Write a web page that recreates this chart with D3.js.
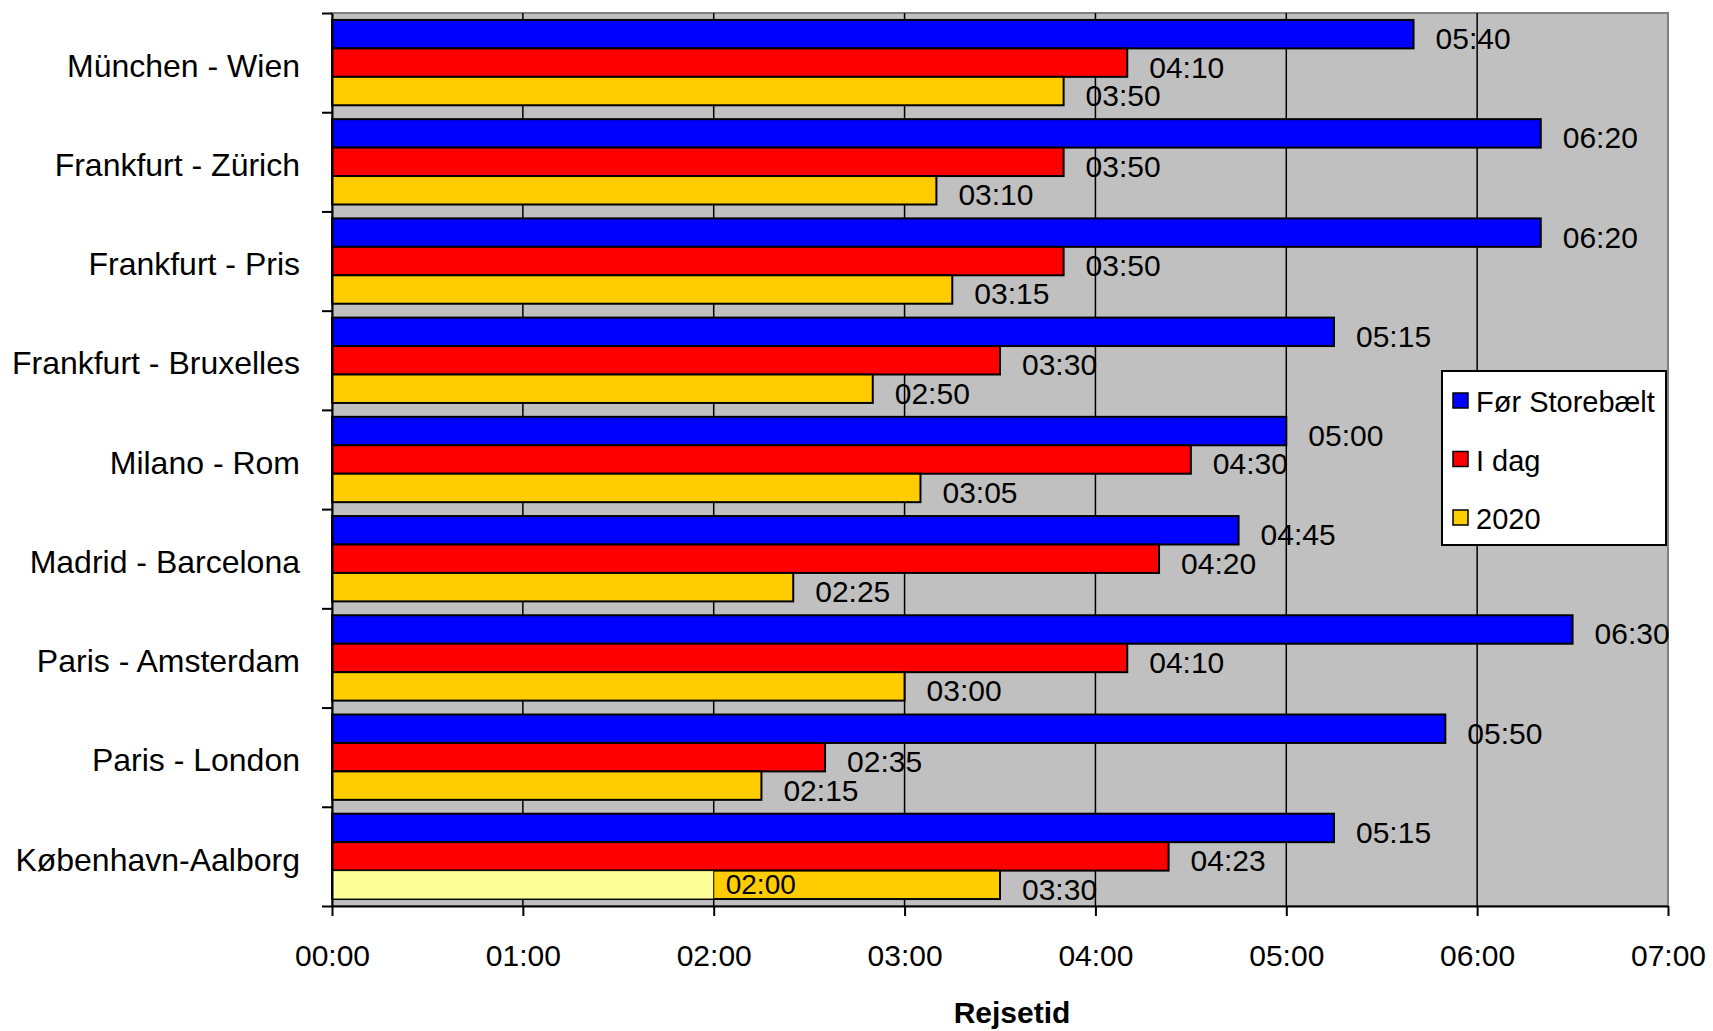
<!DOCTYPE html>
<html>
<head>
<meta charset="utf-8">
<script src="https://cdn.jsdelivr.net/npm/d3@7"></script>
<style>
  body { margin: 0; background: #fff; }
  text { font-family: "Liberation Sans", Arial, sans-serif; }
</style>
</head>
<body>
<div id="graph"></div>
<script>
// Routes and travel times (hh:mm)
const routes = ["München - Wien", "Frankfurt - Zürich", "Frankfurt - Pris", "Frankfurt - Bruxelles",
                "Milano - Rom", "Madrid - Barcelona", "Paris - Amsterdam", "Paris - London", "København-Aalborg"];
const seriesNames = ["Før Storebælt", "I dag", "2020"];
const forStorebaelt = ["05:40", "06:20", "06:20", "05:15", "05:00", "04:45", "06:30", "05:50", "05:15"];
const iDag          = ["04:10", "03:50", "03:50", "03:30", "04:30", "04:20", "04:10", "02:35", "04:23"];
const aar2020       = ["03:50", "03:10", "03:15", "02:50", "03:05", "02:25", "03:00", "02:15", "03:30"];
// København-Aalborg 2020 has a light part up to 02:00
const kbhLightPart = "02:00";
const xTicks = [0, 60, 120, 180, 240, 300, 360, 420];

const colors = ["#0000ff", "#ff0000", "#ffcc00"];
const lightYellow = "#ffff99";

function toMin(s) {
  let p = s.split(":");
  return +p[0] * 60 + +p[1];
}
function fmt(m) {
  let h = Math.floor(m / 60), mm = m % 60;
  return String(h).padStart(2, "0") + ":" + String(mm).padStart(2, "0");
}

let width = 1713, height = 1031;
let plotLeft = 332, plotRight = 1668, plotTop = 13, plotBottom = 906;

let svg = d3.select("#graph").append("svg")
  .attr("width", width)
  .attr("height", height);

let xscale = d3.scaleLinear().domain([0, 420]).range([plotLeft, plotRight]);

let y0 = d3.scaleBand().domain(routes).range([plotTop, plotBottom])
  .paddingInner(0.14).paddingOuter(0.07);
let y1 = d3.scaleBand().domain(seriesNames).range([0, y0.bandwidth()]);

// plot background
svg.append("rect")
  .attr("x", plotLeft).attr("y", plotTop)
  .attr("width", plotRight - plotLeft).attr("height", plotBottom - plotTop)
  .attr("fill", "#c0c0c0")
  .attr("stroke", "#808080").attr("stroke-width", 2);

// vertical gridlines
svg.selectAll(".grid")
  .data(xTicks.slice(1, -1))
  .enter().append("line")
  .attr("x1", d => xscale(d)).attr("x2", d => xscale(d))
  .attr("y1", plotTop).attr("y2", plotBottom)
  .attr("stroke", "#000").attr("stroke-width", 1.5);

let rows = routes.map((r, i) => ({
  route: r,
  vals: [toMin(forStorebaelt[i]), toMin(iDag[i]), toMin(aar2020[i])]
}));

let groups = svg.selectAll(".route")
  .data(rows)
  .enter().append("g")
  .attr("transform", d => "translate(0," + y0(d.route) + ")");

groups.selectAll("rect")
  .data(d => d.vals.map((v, k) => ({ v: v, k: k })))
  .enter().append("rect")
  .attr("x", xscale(0))
  .attr("y", d => y1(seriesNames[d.k]))
  .attr("width", d => xscale(d.v) - xscale(0))
  .attr("height", y1.bandwidth())
  .attr("fill", d => colors[d.k])
  .attr("stroke", "#000").attr("stroke-width", 2);

groups.selectAll(".val")
  .data(d => d.vals.map((v, k) => ({ v: v, k: k })))
  .enter().append("text")
  .attr("x", d => xscale(d.v) + 22)
  .attr("y", d => y1(seriesNames[d.k]) + y1.bandwidth() / 2 + 4.5)
  .attr("dy", "0.35em")
  .attr("font-size", 30)
  .text(d => fmt(d.v));

// light part of the København-Aalborg 2020 bar
let kbh = routes[routes.length - 1];
let lightMin = toMin(kbhLightPart);
svg.append("rect")
  .attr("x", xscale(0))
  .attr("y", y0(kbh) + y1("2020"))
  .attr("width", xscale(lightMin) - xscale(0))
  .attr("height", y1.bandwidth())
  .attr("fill", lightYellow)
  .attr("stroke", "#000").attr("stroke-width", 1);
svg.append("text")
  .attr("x", xscale(lightMin) + 12)
  .attr("y", y0(kbh) + y1("2020") + y1.bandwidth() / 2 - 1)
  .attr("dy", "0.35em")
  .attr("font-size", 28)
  .text(kbhLightPart);

// category labels
svg.selectAll(".cat")
  .data(routes)
  .enter().append("text")
  .attr("x", 300)
  .attr("y", d => y0(d) + y0.bandwidth() / 2 + 3)
  .attr("dy", "0.35em")
  .attr("text-anchor", "end")
  .attr("font-size", 32)
  .text(d => d);

// y axis with ticks on band boundaries
let yIdx = d3.scaleLinear().domain([0, routes.length]).range([plotTop, plotBottom]);
let yAxis = svg.append("g")
  .attr("transform", "translate(" + plotLeft + ",0)")
  .call(d3.axisLeft(yIdx).tickValues(d3.range(routes.length + 1)).tickFormat("").tickSize(10).tickSizeOuter(0));
yAxis.selectAll("path, line").attr("stroke", "#000").attr("stroke-width", 2);

// x axis
let xAxis = svg.append("g")
  .attr("transform", "translate(0," + plotBottom + ")")
  .call(d3.axisBottom(xscale).tickValues(xTicks).tickFormat(fmt).tickSize(10).tickPadding(29).tickSizeOuter(0));
xAxis.selectAll("path, line").attr("stroke", "#000").attr("stroke-width", 2);
xAxis.selectAll("text")
  .attr("font-size", 30)
  .attr("font-family", "'Liberation Sans', Arial, sans-serif")
  .attr("fill", "#000");

svg.append("text")
  .attr("x", 1012).attr("y", 1023)
  .attr("text-anchor", "middle")
  .attr("font-size", 30)
  .attr("font-weight", "bold")
  .text("Rejsetid");

// legend
let legend = svg.append("g").attr("transform", "translate(1442,371)");
legend.append("rect")
  .attr("width", 224).attr("height", 174)
  .attr("fill", "#fff").attr("stroke", "#000").attr("stroke-width", 2);
let items = legend.selectAll(".item")
  .data(seriesNames)
  .enter().append("g")
  .attr("transform", (d, i) => "translate(0," + (i * 58.5) + ")");
items.append("rect")
  .attr("x", 11).attr("y", 22)
  .attr("width", 15).attr("height", 15)
  .attr("fill", (d, i) => colors[i])
  .attr("stroke", "#000").attr("stroke-width", 1.5);
items.append("text")
  .attr("x", 34).attr("y", 41)
  .attr("font-size", 29)
  .text(d => d);
</script>
</body>
</html>
